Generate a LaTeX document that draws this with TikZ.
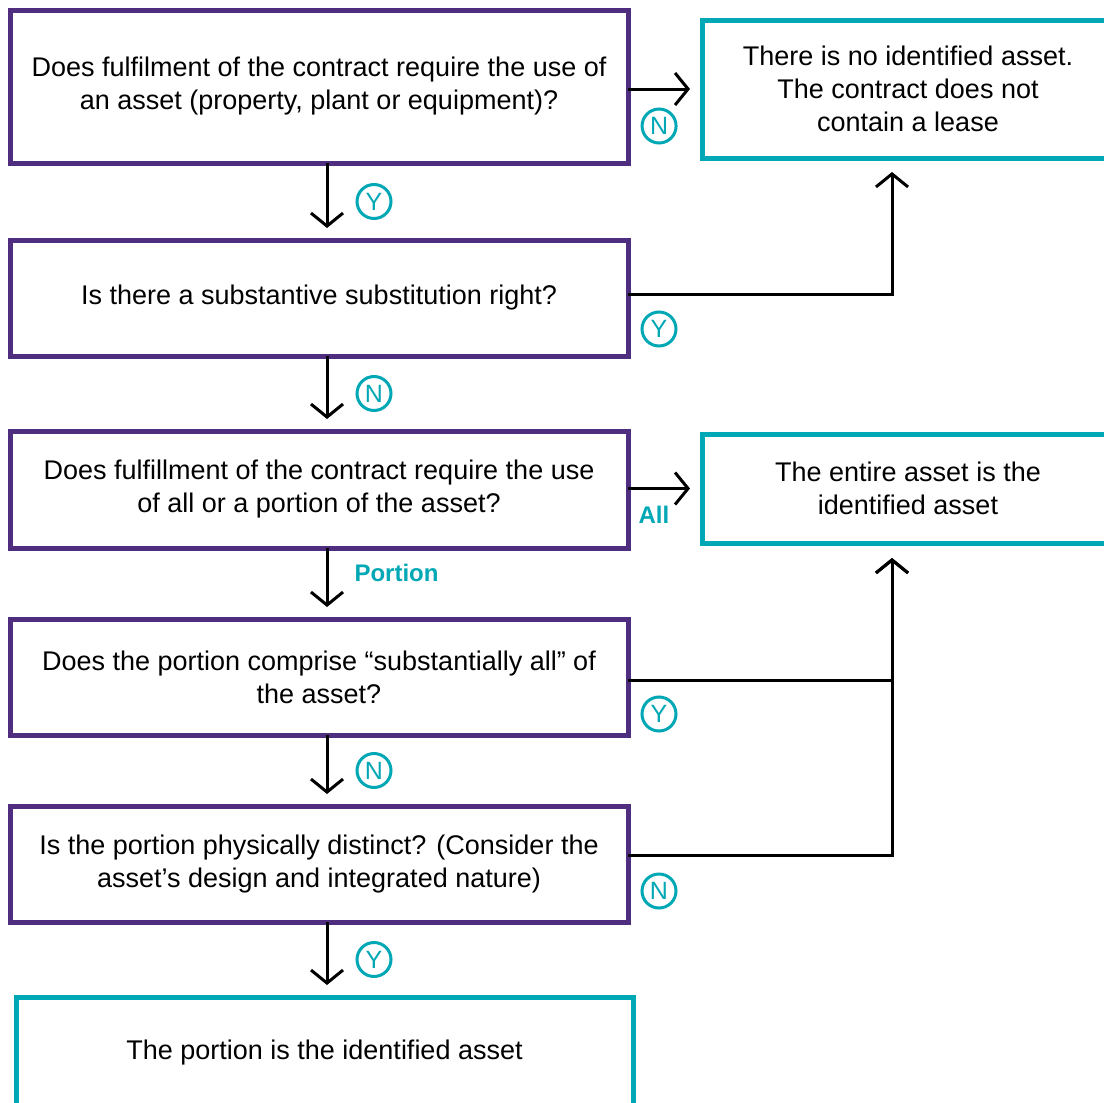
\documentclass[tikz,border=0pt]{standalone}
\usepackage{fontspec}
\setmainfont{Liberation Sans}
\usetikzlibrary{arrows.meta}
\definecolor{gtpurple}{HTML}{4F2D7F}
\definecolor{gtteal}{HTML}{00A7B5}

\begin{document}
\begin{tikzpicture}[x=0.5pt,y=-0.5pt,
    every node/.style={font=\fontsize{13.5}{16.5}\selectfont},
    qbox/.style={draw=gtpurple,line width=2.5pt,outer sep=0pt,align=center,
      minimum width=309pt,minimum height=58pt},
    abox/.style={draw=gtteal,line width=2.5pt,outer sep=0pt,align=center},
    yn/.style={circle,draw=gtteal,text=gtteal,line width=1.5pt,outer sep=0pt,
      minimum size=17pt,inner sep=0pt,font=\fontsize{12.5}{12.5}\selectfont},
    lbl/.style={text=gtteal,inner sep=0pt,font=\bfseries\fontsize{12}{12}\selectfont},
    arr/.style={line width=1.5pt,-{Straight Barb[length=6.5pt,width=16pt]}}]
          \path[use as bounding box,fill=white] (0,0) rectangle (1104,1103);

          \node[qbox,minimum height=76.5pt] (q1) at (319,86.5)
            {Does fulfilment of the contract require the use of\\an asset (property, plant or equipment)?};
          \node[qbox] (q2) at (319,298) {Is there a substantive substitution right?};
          \node[qbox,minimum height=58.5pt] (q3) at (319,489.5)
            {Does fulfillment of the contract require the use\\of all or a portion of the asset?};
          \node[qbox] (q4) at (319,677)
            {Does the portion comprise “substantially all” of\\the asset?};
          \node[qbox] (q5) at (319,864)
            {Is the portion physically distinct? (Consider the\\asset’s design and integrated nature)};
          \node[abox,minimum width=206pt,minimum height=69pt] (noasset) at (908,89)
            {There is no identified asset.\\The contract does not\\contain a lease};
          \node[abox,minimum width=206pt,minimum height=54.5pt] (entire) at (908,488.5)
            {The entire asset is the\\identified asset};
          \node[abox,minimum width=308.5pt,minimum height=56pt] (portion) at (324.5,1053)
            {The portion is the identified asset};

          \draw[arr,shorten >=6pt] (q1.east |- noasset.west) -- node[yn,below=10pt,pos=0.42] {N} (noasset.west);
          \draw[arr,shorten >=6pt] ([xshift=4pt]q1.south) -- node[yn,right=15pt] {Y} ([xshift=4pt]q1.south |- q2.north);
          \draw[arr,shorten >=7pt] ([yshift=2pt]q2.east) -| ([xshift=-8pt]noasset.south);
          \node[yn] at ([xshift=15.5pt,yshift=-15.5pt]q2.east) {Y};
          \draw[arr,shorten >=6pt] ([xshift=4pt]q2.south) -- node[yn,right=15pt] {N} ([xshift=4pt]q2.south |- q3.north);
          \draw[arr,shorten >=6pt] (q3.east |- entire.west) -- node[lbl,below=8pt,pos=0.35] {All} (entire.west);
          \draw[arr,shorten >=6pt] ([xshift=4pt]q3.south) -- node[lbl,right=13pt,yshift=5.5pt] {Portion} ([xshift=4pt]q3.south |- q4.north);
          \draw[arr,shorten >=7.5pt] ([yshift=-1.5pt]q4.east) -| ([xshift=-8pt]entire.south);
          \node[yn] at ([xshift=15.5pt,yshift=-18.5pt]q4.east) {Y};
          \draw[arr,shorten >=6pt] ([xshift=4pt]q4.south) -- node[yn,right=15pt] {N} ([xshift=4pt]q4.south |- q5.north);
          \draw[arr,shorten >=7.5pt] ([yshift=4.5pt]q5.east) -| ([xshift=-8pt]entire.south);
          \node[yn] at ([xshift=15.5pt,yshift=-13.5pt]q5.east) {N};
          \draw[arr,shorten >=6pt] ([xshift=4pt]q5.south) -- node[yn,right=15pt] {Y} ([xshift=4pt]q5.south |- portion.north);
        \end{tikzpicture}
\end{document}
